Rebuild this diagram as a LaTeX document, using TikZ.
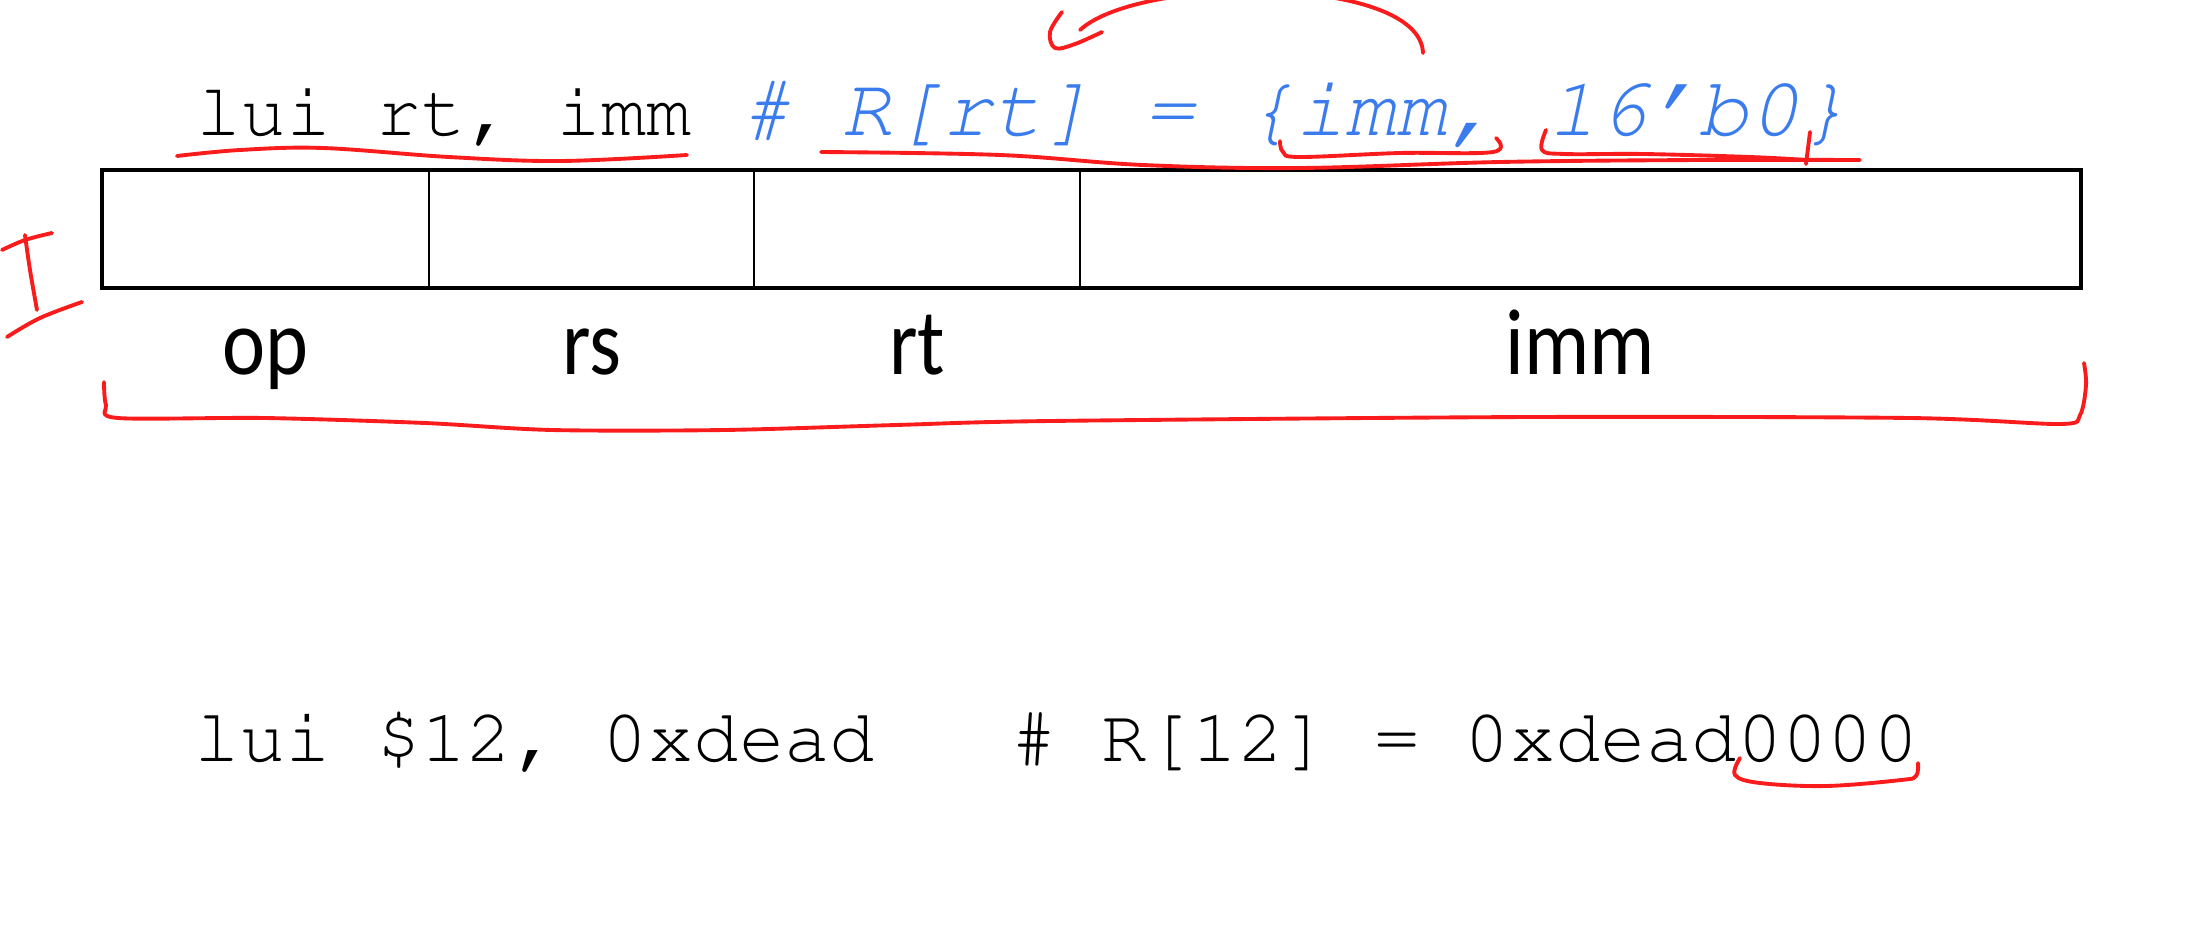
\documentclass[tikz,border=0pt]{standalone}
\usepackage[T1]{fontenc}
\usepackage{fontspec}
\newfontfamily\labelfont[FakeStretch=0.87]{Carlito}
\newcommand\courfont{\fontencoding{T1}\fontfamily{pcr}\selectfont}
\definecolor{penred}{RGB}{250,28,28}
\definecolor{codeblue}{RGB}{58,124,238}
\begin{document}
\begin{tikzpicture}[x=0.01cm,y=-0.01cm,
  ink/.style={penred, line width=1.1pt, line cap=round, line join=round},
  lbl/.style={anchor=base, inner sep=0pt, font=\labelfont\fontsize{26.7pt}{30pt}\selectfont},
  code/.style={anchor=base west, inner sep=0pt}]
\useasboundingbox[fill=white] (0,0) rectangle (2189,924);
\frenchspacing
% instruction format box
\draw[line width=0.9pt] (102,170) rectangle (2081,288);
\draw[line width=0.6pt] (429,170) -- (429,288);
\draw[line width=0.6pt] (754,170) -- (754,288);
\draw[line width=0.6pt] (1080,170) -- (1080,288);
% field labels
\node[lbl] (lop) at (265,374) {op};
\node[lbl] (lrs) at (592,374) {rs};
\node[lbl] (lrt) at (917,374) {rt};
\node[lbl] (limm) at (1580,374) {imm};
% code text
\node[code] (instr) at (196,135) {\courfont\fontsize{21.3pt}{25pt}\selectfont lui rt, imm};
\node[code, text=codeblue] (sem) at (740,135) {\courfont\itshape\fontsize{23.9pt}{28pt}\selectfont \# R[rt] = \{imm, 16'b0\}};
\node[code] (ex) at (194,761) {\courfont\fontsize{21.5pt}{25pt}\selectfont lui \$12, 0xdead\ \ \ \# R[12] = 0xdead0000};
% red pen annotations
\draw[ink] plot[smooth, tension=0.6] coordinates {(177,156) (240,150) (323,148) (449,157) (561,161) (687,155)};
\draw[ink] plot[smooth, tension=0.6] coordinates {(821,152) (1000,155) (1143,165) (1300,168) (1500,162) (1700,160) (1860,160)};
\draw[ink] plot[smooth, tension=0.6] coordinates {(1280,141) (1283,152) (1300,157) (1400,153) (1493,152) (1496,138)};
\draw[ink] plot[smooth, tension=0.6] coordinates {(1546,130) (1542,150) (1565,154) (1644,154) (1750,157) (1807,160)};
\draw[ink] (1810,132) -- (1806,164);
\draw[ink] (1423,53) .. controls (1420,-25) and (1140,-25) .. (1080,30);
\draw[ink] plot[smooth, tension=0.6] coordinates {(1062,12) (1050,32) (1055,48) (1075,44) (1102,32)};
% the letter I
\draw[ink] plot[smooth, tension=0.6] coordinates {(2,250) (25,240) (52,233)};
\draw[ink] plot[smooth, tension=0.6] coordinates {(25,235) (30,270) (37,310)};
\draw[ink] plot[smooth, tension=0.6] coordinates {(7,337) (40,318) (82,302)};
% big brace under labels
\draw[ink] plot[smooth, tension=0.5] coordinates {(104,382) (106,405) (118,418) (265,418) (425,423) (552,430) (724,430) (896,425) (1050,421) (1530,417) (1910,418) (2060,424) (2080,415) (2086,385) (2084,363)};
% bracket under 0000
\draw[ink] plot[smooth, tension=0.6] coordinates {(1740,758) (1735,775) (1760,783) (1826,786) (1901,780) (1916,776) (1918,763)};
\end{tikzpicture}
\end{document}
